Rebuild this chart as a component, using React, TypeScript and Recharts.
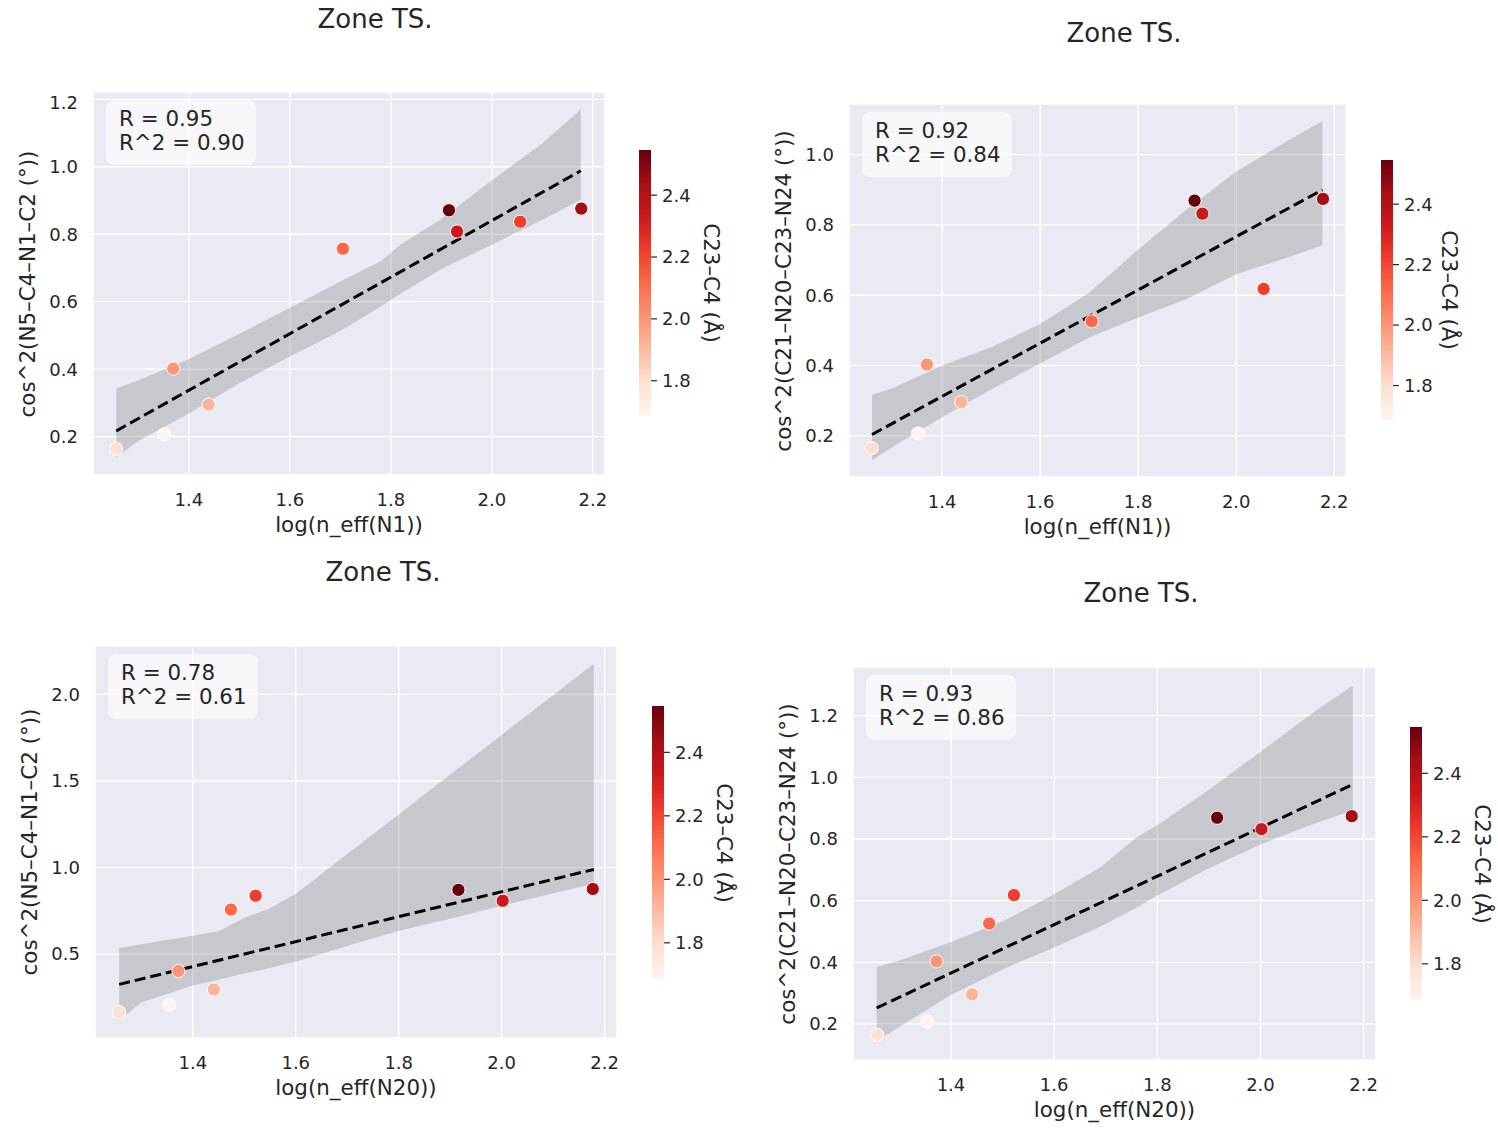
import {
  Area,
  CartesianGrid,
  Cell,
  ComposedChart,
  Line,
  ReferenceArea,
  Scatter,
  XAxis,
  YAxis,
} from "recharts"

const font = "'DejaVu Sans', sans-serif"
const ink = "#262626"

// nine structures, same order in every panel
const nEffN1 = [1.256, 1.351, 1.369, 1.439, 1.705, 1.915, 1.931, 2.056, 2.177]
const nEffN20 = [1.257, 1.354, 1.372, 1.441, 1.474, 1.916, 2.002, 1.522, 2.177]
const cosN5 = [0.164, 0.207, 0.402, 0.295, 0.757, 0.871, 0.808, 0.837, 0.876]
const cosC21 = [0.165, 0.207, 0.403, 0.296, 0.526, 0.869, 0.832, 0.618, 0.874]
const c23c4 = [1.79, 1.686, 2.0, 1.92, 2.12, 2.546, 2.33, 2.22, 2.44]

const xTicks = [1.4, 1.6, 1.8, 2.0, 2.2]
const cbTicks = [1.8, 2.0, 2.2, 2.4]
const cbDomain = [1.686, 2.546]

// confidence bands + fit lines
const band1X = [1.256, 1.3, 1.4, 1.5, 1.6, 1.7, 1.78, 1.82, 1.9, 2.0, 2.1, 2.176]
const band1Lo = [0.138, 0.187, 0.269, 0.358, 0.438, 0.513, 0.586, 0.624, 0.697, 0.769, 0.843, 0.902]
const band1Hi = [0.343, 0.367, 0.43, 0.505, 0.582, 0.66, 0.72, 0.77, 0.845, 0.96, 1.07, 1.17]
const fit1 = [0.217, 0.988]

const band2X = [1.257, 1.3, 1.4, 1.5, 1.6, 1.7, 1.8, 1.9, 2.0, 2.1, 2.176]
const band2Lo = [0.131, 0.17, 0.253, 0.332, 0.406, 0.48, 0.537, 0.59, 0.66, 0.705, 0.742]
const band2Hi = [0.317, 0.336, 0.4, 0.452, 0.518, 0.607, 0.73, 0.845, 0.952, 1.035, 1.096]
const fit2 = [0.204, 0.9]

const band3X = [1.257, 1.3, 1.4, 1.45, 1.5, 1.55, 1.6, 1.7, 1.8, 1.9, 2.0, 2.1, 2.179]
const band3Lo = [0.117, 0.22, 0.318, 0.352, 0.387, 0.421, 0.455, 0.546, 0.635, 0.704, 0.779, 0.852, 0.906]
const band3Hi = [0.535, 0.557, 0.606, 0.632, 0.71, 0.765, 0.848, 1.078, 1.307, 1.537, 1.766, 1.996, 2.177]
const fit3 = [0.325, 0.989]

const band4X = [1.256, 1.3, 1.4, 1.5, 1.6, 1.69, 1.76, 1.8, 1.9, 2.0, 2.1, 2.179]
const band4Lo = [0.144, 0.191, 0.294, 0.377, 0.448, 0.516, 0.578, 0.617, 0.705, 0.782, 0.847, 0.893]
const band4Hi = [0.385, 0.406, 0.466, 0.532, 0.621, 0.708, 0.806, 0.845, 0.96, 1.083, 1.208, 1.298]
const fit4 = [0.252, 0.977]

const reds = ["#fff5f0", "#fee0d2", "#fcbba1", "#fc9272", "#fb6a4a", "#ef3b2c", "#cb181d", "#a50f15", "#67000d"]

const hex = (c: string) => [1, 3, 5].map(i => parseInt(c.slice(i, i + 2), 16))
const redsAt = (v: number) => {
  const t = Math.min(1, Math.max(0, (v - cbDomain[0]) / (cbDomain[1] - cbDomain[0])))
  const p = t * (reds.length - 1)
  const i = Math.min(reds.length - 2, Math.floor(p))
  const f = p - i
  const a = hex(reds[i])
  const b = hex(reds[i + 1])
  const c = a.map((av, k) => Math.round(av + (b[k] - av) * f))
  return `rgb(${c[0]},${c[1]},${c[2]})`
}

const fmt = (v: number) => v.toFixed(1)

const panels = [
  {
    xs: nEffN1, ys: cosN5, bandX: band1X, bandLo: band1Lo, bandHi: band1Hi, fit: fit1,
    xLabel: "log(n_eff(N1))", yLabel: "cos^2(N5–C4–N1–C2 (°))", r: "0.95", r2: "0.90",
    yDomain: [0.0864, 1.2216], yTicks: [0.2, 0.4, 0.6, 0.8, 1.0, 1.2],
    plot: { x: 93, y: 92, w: 512, h: 383 }, cb: { x: 639, y: 150, h: 266 },
    title: { x: 375, y: 19 }, cbLabelX: 711,
  },
  {
    xs: nEffN1, ys: cosC21, bandX: band2X, bandLo: band2Lo, bandHi: band2Hi, fit: fit2,
    xLabel: "log(n_eff(N1))", yLabel: "cos^2(C21–N20–C23–N24 (°))", r: "0.92", r2: "0.84",
    yDomain: [0.083, 1.144], yTicks: [0.2, 0.4, 0.6, 0.8, 1.0],
    plot: { x: 849, y: 104, w: 497, h: 373 }, cb: { x: 1381, y: 160, h: 260 },
    title: { x: 1124, y: 33 }, cbLabelX: 1449,
  },
  {
    xs: nEffN20, ys: cosN5, bandX: band3X, bandLo: band3Lo, bandHi: band3Hi, fit: fit3,
    xLabel: "log(n_eff(N20))", yLabel: "cos^2(N5–C4–N1–C2 (°))", r: "0.78", r2: "0.61",
    yDomain: [0.015, 2.28], yTicks: [0.5, 1.0, 1.5, 2.0],
    plot: { x: 95, y: 646, w: 522, h: 392 }, cb: { x: 652, y: 706, h: 273 },
    title: { x: 383, y: 572 }, cbLabelX: 724,
  },
  {
    xs: nEffN20, ys: cosC21, bandX: band4X, bandLo: band4Lo, bandHi: band4Hi, fit: fit4,
    xLabel: "log(n_eff(N20))", yLabel: "cos^2(C21–N20–C23–N24 (°))", r: "0.93", r2: "0.86",
    yDomain: [0.083, 1.358], yTicks: [0.2, 0.4, 0.6, 0.8, 1.0, 1.2],
    plot: { x: 853, y: 667, w: 523, h: 393 }, cb: { x: 1410, y: 727, h: 273 },
    title: { x: 1141, y: 593 }, cbLabelX: 1482,
  },
]

const xDomain = [1.21, 2.224]

const text = (x: number, y: number, size: number, rot = 0): React.CSSProperties => ({
  position: "absolute",
  left: x,
  top: y,
  transform: `translate(-50%, -50%) rotate(${rot}deg)`,
  whiteSpace: "nowrap",
  lineHeight: 1,
  fontSize: size,
  fontFamily: font,
  color: ink,
})

function Panel({ p, k }: { p: (typeof panels)[0]; k: number }) {
  const band = p.bandX.map((x, i) => ({ x, band: [p.bandLo[i], p.bandHi[i]] }))
  const fit = [
    { x: p.bandX[0], y: p.fit[0] },
    { x: p.bandX[p.bandX.length - 1], y: p.fit[1] },
  ]
  const pts = p.xs.map((x, i) => ({ x, y: p.ys[i], c: c23c4[i] }))
  const yw = 70
  const xh = 60
  const rm = 24
  const tick = { fill: ink, fontSize: 18, fontFamily: font }
  const { plot, cb } = p

  return (
    <>
      <div style={text(p.title.x, p.title.y, 26)}>Zone TS.</div>
      <div style={{ position: "absolute", left: plot.x - yw, top: plot.y }}>
        <ComposedChart
          width={plot.w + yw + rm}
          height={plot.h + xh}
          data={band}
          margin={{ top: 0, right: rm, bottom: 0, left: 0 }}
        >
          <CartesianGrid fill="#EAEAF2" fillOpacity={1} stroke="#fff" strokeWidth={1.3} />
          <XAxis
            type="number"
            dataKey="x"
            domain={xDomain}
            ticks={xTicks}
            allowDataOverflow
            height={xh}
            axisLine={false}
            tickLine={false}
            tickSize={0}
            tickMargin={18}
            tick={tick}
            tickFormatter={fmt}
          />
          <YAxis
            type="number"
            domain={p.yDomain}
            ticks={p.yTicks}
            allowDataOverflow
            width={yw}
            axisLine={false}
            tickLine={false}
            tickSize={0}
            tickMargin={15}
            tick={tick}
            tickFormatter={fmt}
          />
          <Area
            dataKey="band"
            type="linear"
            stroke="none"
            fill="#000"
            fillOpacity={0.15}
            isAnimationActive={false}
          />
          <Line
            data={fit}
            dataKey="y"
            type="linear"
            stroke="#000"
            strokeWidth={3}
            strokeDasharray="11 5"
            dot={false}
            activeDot={false}
            isAnimationActive={false}
          />
          <Scatter
            data={pts}
            dataKey="y"
            isAnimationActive={false}
            shape={(s: any) => (
              <circle
                cx={s.cx}
                cy={s.cy}
                r={6.6}
                fill={s.payload && s.payload.c != null ? redsAt(s.payload.c) : s.fill}
                stroke="#fff"
                strokeWidth={0.9}
              />
            )}
          >
            {pts.map((d, i) => (
              <Cell key={i} fill={redsAt(d.c)} />
            ))}
          </Scatter>
        </ComposedChart>
      </div>
      <div
        style={{
          position: "absolute",
          left: plot.x + 13,
          top: plot.y + 8,
          width: 137,
          height: 58,
          paddingTop: 6.6,
          paddingLeft: 13,
          borderRadius: 8,
          background: "rgba(255,255,255,0.6)",
          fontFamily: font,
          fontSize: 21.4,
          lineHeight: "24px",
          color: ink,
          whiteSpace: "nowrap",
        }}
      >
        <div>R = {p.r}</div>
        <div>R^2 = {p.r2}</div>
      </div>
      <div style={text(plot.x + plot.w / 2, plot.y + plot.h + 50, 21.4)}>{p.xLabel}</div>
      <div style={text(plot.x - 65, plot.y + plot.h / 2, 21.4, -90)}>{p.yLabel}</div>

      <div style={{ position: "absolute", left: cb.x, top: cb.y }}>
        <ComposedChart
          width={12 + 60}
          height={cb.h}
          data={[{ x: 0 }, { x: 1 }]}
          margin={{ top: 0, right: 0, bottom: 0, left: 0 }}
        >
          <defs>
            <linearGradient id={`reds${k}`} x1="0" y1="1" x2="0" y2="0">
              {reds.map((c, i) => (
                <stop key={i} offset={i / (reds.length - 1)} stopColor={c} />
              ))}
            </linearGradient>
          </defs>
          <XAxis type="number" dataKey="x" domain={[0, 1]} hide />
          <YAxis
            orientation="right"
            type="number"
            domain={cbDomain}
            ticks={cbTicks}
            allowDataOverflow
            width={60}
            axisLine={false}
            tickLine={{ stroke: ink, strokeWidth: 1.2 }}
            tickSize={6}
            tickMargin={5}
            tick={tick}
            tickFormatter={fmt}
          />
          <ReferenceArea
            x1={0}
            x2={1}
            y1={cbDomain[0]}
            y2={cbDomain[1]}
            fill={`url(#reds${k})`}
            fillOpacity={1}
            stroke="none"
          />
        </ComposedChart>
      </div>
      <div style={text(p.cbLabelX, cb.y + cb.h / 2, 21.4, 90)}>C23–C4 (Å)</div>
    </>
  )
}

export default function App() {
  return (
    <div
      style={{
        position: "absolute",
        left: 0,
        top: 0,
        width: 1498,
        height: 1143,
        background: "#fff",
        overflow: "hidden",
      }}
    >
      {panels.map((p, k) => (
        <Panel key={k} p={p} k={k} />
      ))}
    </div>
  )
}
